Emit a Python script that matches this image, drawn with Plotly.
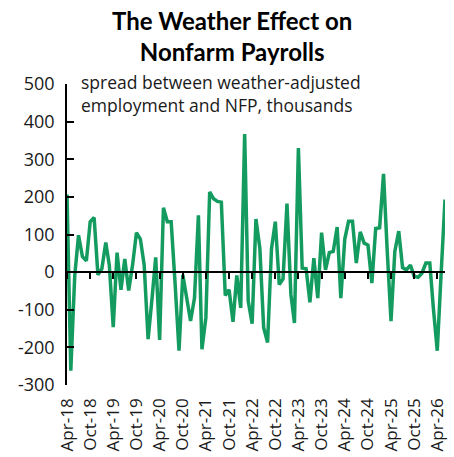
import plotly.graph_objects as go
import pandas as pd

dates = pd.date_range("2018-04-01", periods=99, freq="MS")
spread = [206, -262, -10, 98, 41, 30, 134, 145, -7, 9,
          79, 18, -146, 52, -47, 35, -49, 20, 105, 88,
          19, -178, -70, 39, -180, 171, 134, 134, -30, -209,
          -7, -65, -130, -69, 151, -205, -121, 213, 195, 188,
          186, -62, -47, -132, -9, -95, 367, -77, -137, 141,
          63, -148, -187, 63, 134, -33, -18, 182, -60, -135,
          330, 11, 9, -80, 37, -69, 105, 6, 52, 55,
          120, -69, 88, 135, 135, 24, 107, 77, 72, -29,
          116, 118, 261, 63, -130, 55, 109, 12, 6, 19,
          -11, -14, -3, 24, 24, -95, -209, -7, 193]

y_tick_vals = [500, 400, 300, 200, 100, 0, -100, -200, -300]
y_tick_text = ["500", "400", "300", "200", "100", "0", "-100", "-200", "-300"]

title_text = "The Weather Effect on<br>Nonfarm Payrolls"
note_text = "spread between weather-adjusted<br>employment and NFP, thousands"

green = "#149B5F"
body_font = "Open Sans"
title_font = "Lato"

W, H = 454, 457
M_L, M_R, M_T, M_B = 67, 6, 84, 70
plot_h = H - M_T - M_B
plot_w = W - M_L - M_R


def py(pix):
    """pixel row -> paper y"""
    return 1 + (M_T - pix) / plot_h


def px(pix):
    return (pix - M_L) / plot_w


fig = go.Figure()
fig.add_trace(go.Scatter(x=dates, y=spread, mode="lines",
                         line=dict(color=green, width=3.5),
                         showlegend=False, hoverinfo="skip"))
# invisible copy to activate the zero-line axis (ticks on y=0)
fig.add_trace(go.Scatter(x=dates, y=spread, mode="lines", xaxis="x2",
                         line=dict(color="rgba(0,0,0,0)", width=0),
                         showlegend=False, hoverinfo="skip"))

xr = [dates[0], dates[-1]]

annotations = [
    dict(text=title_text, x=px(233), xref="paper", xanchor="center",
         y=py(35.5), yref="paper", yanchor="middle", align="center",
         showarrow=False,
         font=dict(family=title_font, size=24, color="black", weight="bold")),
    dict(text=note_text, x=px(79), xref="paper", xanchor="left",
         y=py(94), yref="paper", yanchor="middle", align="left",
         showarrow=False,
         font=dict(family=body_font, size=17.5, color="#1a1a1a")),
]

fig.update_layout(
    width=W, height=H,
    margin=dict(l=M_L, r=M_R, t=M_T, b=M_B),
    paper_bgcolor="white", plot_bgcolor="white",
    font=dict(family=body_font, color="#1a1a1a"),
    xaxis=dict(type="date", range=xr, dtick="M6", tick0="2018-04-01",
               tickformat="%b-%y", tickangle=-90, showline=False, ticks="",
               showgrid=False, zeroline=False, ticklabelstandoff=9,
               tickfont=dict(size=17, color="#1a1a1a")),
    xaxis2=dict(type="date", range=xr, dtick="M6", tick0="2018-04-01",
                overlaying="x", anchor="free", position=0.375,
                showline=True, linecolor="black", linewidth=1.5,
                ticks="outside", ticklen=6, tickwidth=1.5, tickcolor="black",
                showticklabels=False, showgrid=False, zeroline=False),
    yaxis=dict(range=[-300, 500], tickvals=y_tick_vals, ticktext=y_tick_text,
               showline=True, linecolor="black", linewidth=1.5,
               ticks="inside", ticklen=7, tickwidth=1.5, tickcolor="black",
               showgrid=False, zeroline=False, ticklabelstandoff=7,
               tickfont=dict(size=18, color="#1a1a1a")),
    annotations=annotations,
)

fig.write_html("out.html", config={"displayModeBar": False},
               post_script="document.body.style.margin='0';")
